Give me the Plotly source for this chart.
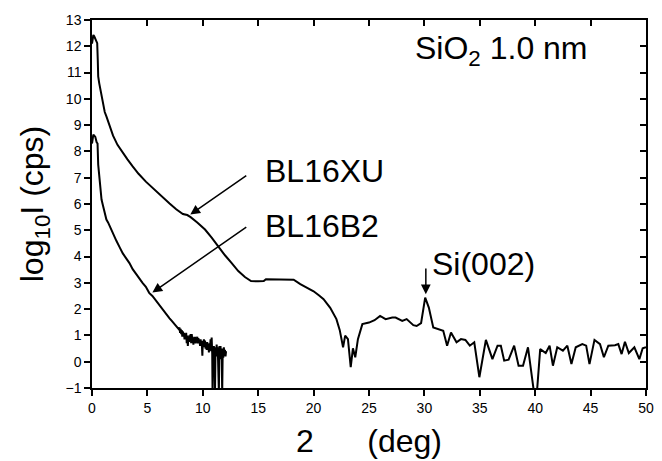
import plotly.graph_objects as go

# BL16XU (upper curve)
ux = [0.0, 0.05, 0.12, 0.2, 0.3, 0.4, 0.47, 0.52, 0.56, 0.65, 0.77, 0.9, 1.0, 1.15, 1.3, 1.6, 1.9, 2.3,
      2.78, 3.2, 3.67, 4.2, 4.86, 5.6, 6.34, 7.0, 7.6, 8.2, 8.6, 8.9, 9.5, 10.2, 10.8, 11.39, 12.0,
      12.57, 13.2, 13.8, 14.35, 15.0, 15.5, 15.7, 16.5, 17.5, 18.2, 18.8, 19.4, 20.0, 20.5, 20.9,
      21.5, 22.06, 22.36, 22.66, 22.85, 23.1, 23.35, 23.55, 23.76, 24.0, 24.4, 25.0, 25.5, 25.8,
      26.0, 26.5, 27.1, 27.4, 28.0, 28.4, 29.0, 29.3, 29.7, 30.07, 30.4, 30.8, 31.7, 32.05, 32.4,
      32.9, 33.3, 33.7, 34.1, 34.5, 34.96, 35.55, 36.14, 36.6, 36.9, 37.2, 37.6, 38.1, 38.5, 38.9,
      39.35, 39.9, 40.15, 40.45, 40.95, 41.3, 41.6, 41.99, 42.5, 42.9, 43.27, 43.66, 44.25, 44.6,
      44.9, 45.35, 45.85, 46.2, 46.6, 47.2, 47.5, 47.8, 48.1, 48.45, 48.95, 49.4, 49.7, 50.0]
uy = [12.1, 12.35, 12.43, 12.38, 12.3, 12.2, 12.12, 11.5, 10.85, 10.6, 10.34, 9.95, 9.71, 9.5, 9.33,
      8.95, 8.6, 8.25, 7.94, 7.7, 7.43, 7.15, 6.85, 6.55, 6.27, 6.02, 5.8, 5.62, 5.58, 5.5, 5.3, 5.03,
      4.72, 4.37, 4.05, 3.77, 3.45, 3.22, 3.07, 3.06, 3.07, 3.14, 3.14, 3.14, 3.12, 2.95, 2.83, 2.68,
      2.52, 2.38, 2.05, 1.62, 1.2, 0.55, 0.99, 0.86, -0.21, 0.51, 0.17, 0.86, 1.43, 1.49, 1.58, 1.68,
      1.74, 1.62, 1.68, 1.68, 1.55, 1.62, 1.39, 1.36, 1.47, 2.44, 2.06, 1.30, 1.18, 0.61, 1.11, 0.74,
      0.86, 0.83, 0.61, 0.74, -0.59, 0.83, 0.10, 0.61, 0.61, 0.04, 0.08, 0.61, -0.15, -0.15, 0.55,
      -1.2, -1.2, 0.48, 0.33, 0.61, -0.15, 0.55, 0.42, 0.61, -0.09, 0.55, 0.67, 0.61, -0.09, 0.83,
      0.67, 0.17, 0.61, 0.63, 0.67, 0.29, 0.76, 0.33, 0.55, 0.10, 0.51, 0.55]

# BL16B2 (lower curve)
bx = [0.0, 0.05, 0.12, 0.2, 0.3, 0.42, 0.5, 0.56, 0.65, 0.75, 0.86, 1.0, 1.15, 1.3, 1.45, 1.6, 1.9,
      2.2, 2.5, 2.78, 3.1, 3.38, 3.67, 4.0, 4.27, 4.56, 4.86, 5.16, 5.45, 5.8, 6.1, 6.34, 6.7, 7.0,
      7.2, 7.5, 7.7, 7.83, 7.9, 7.95, 8.0, 8.05, 8.1, 8.15, 8.2, 8.25, 8.3, 8.35, 8.4, 8.45, 8.5,
      8.55, 8.6, 8.65, 8.7, 8.75, 8.8, 8.85, 8.9, 8.95, 9.0, 9.05, 9.1, 9.15, 9.2, 9.25, 9.3, 9.35,
      9.4, 9.45, 9.5, 9.55, 9.6, 9.65, 9.7, 9.75, 9.8, 9.85, 9.9, 9.96, 10.0, 10.05, 10.1, 10.15,
      10.2, 10.25, 10.3, 10.35, 10.4, 10.45, 10.5, 10.55, 10.6, 10.65, 10.7, 10.75, 10.8, 10.85,
      10.88, 10.92, 10.96, 11.0, 11.05, 11.1, 11.15, 11.2, 11.25, 11.3, 11.35, 11.4, 11.45, 11.5,
      11.55, 11.6, 11.65, 11.7, 11.75, 11.8, 11.85, 11.9, 11.95, 12.0, 12.05, 12.1]
by = [8.3, 8.55, 8.64, 8.6, 8.55, 8.35, 8.3, 7.5, 7.0, 6.6, 6.17, 5.92, 5.65, 5.41, 5.3, 5.15, 4.91,
      4.6, 4.35, 4.12, 3.92, 3.75, 3.52, 3.33, 3.14, 3.0, 2.85, 2.62, 2.5, 2.3, 2.12, 2.0, 1.8, 1.65,
      1.55, 1.4, 1.3, 1.24, 1.3, 1.1, 1.25, 1.05, 1.2, 0.95, 1.15, 1.0, 1.1, 0.85, 1.05, 0.9, 1.1,
      0.7, 1.0, 0.6, 0.95, 0.75, 1.0, 0.8, 1.05, 0.7, 1.05, 0.85, 0.95, 0.65, 0.9, 0.75, 0.95, 0.7,
      0.9, 0.8, 0.95, 0.7, 0.9, 0.75, 0.85, 0.6, 0.85, 0.7, 0.8, 0.23, 0.75, 0.6, 0.85, 0.55, 0.8,
      0.5, 0.7, 0.45, 0.75, 0.5, 0.65, 0.35, 0.7, 0.5, 0.85, 0.4, 0.92, 0.3, -1.2, 0.5, 0.2, 0.6,
      0.1, -1.2, 0.55, 0.2, 0.65, 0.3, 0.55, 0.0, -1.2, 0.6, 0.2, 0.6, 0.1, 0.5, -1.2, 0.5, 0.15,
      0.55, 0.25, 0.45, 0.2, 0.4]

x_ticks = [0, 5, 10, 15, 20, 25, 30, 35, 40, 45, 50]
y_ticks = list(range(-1, 14))

FONT = "Liberation Sans, Arial, sans-serif"
LBL = 32

fig = go.Figure()
fig.add_trace(go.Scatter(x=ux, y=uy, mode="lines", line=dict(color="black", width=2),
                         name="BL16XU", showlegend=False))
fig.add_trace(go.Scatter(x=bx, y=by, mode="lines", line=dict(color="black", width=2),
                         name="BL16B2", showlegend=False))
fig.add_trace(go.Scatter(x=[], y=[], xaxis="x2", yaxis="y2", showlegend=False, hoverinfo="skip"))

axis_common = dict(showgrid=False, zeroline=False, showline=True, linecolor="black", linewidth=1.5,
                   tickcolor="black", tickwidth=1.5, ticklen=6,
                   tickfont=dict(family=FONT, size=14, color="black"))

fig.update_layout(
    width=662, height=461,
    margin=dict(l=92, r=8, t=20, b=72),
    paper_bgcolor="white", plot_bgcolor="white",
    font=dict(family=FONT, color="black"),
    xaxis=dict(range=[0, 50], tickvals=x_ticks, ticks="outside",
               title=dict(text="2\u00a0\u00a0\u00a0\u00a0\u00a0\u00a0(deg)",
                          font=dict(family=FONT, size=LBL), standoff=15),
               **axis_common),
    yaxis=dict(range=[-1, 13], tickvals=y_ticks, ticks="outside",
               title=dict(text="log<sub>10</sub>I (cps)", font=dict(family=FONT, size=LBL), standoff=12),
               **axis_common),
    xaxis2=dict(range=[0, 50], tickvals=x_ticks, ticks="inside", overlaying="x", side="top",
                showticklabels=False, anchor="y2", **axis_common),
    yaxis2=dict(range=[-1, 13], tickvals=y_ticks, ticks="inside", overlaying="y", side="right",
                showticklabels=False, anchor="x2", **axis_common),
)

ann_font = dict(family=FONT, size=LBL, color="black")
# arrows
fig.add_annotation(x=8.87, y=5.60, ax=14.06, ay=7.12, axref="x", ayref="y", xref="x", yref="y",
                   text="", showarrow=True, arrowhead=2, arrowsize=1.3, arrowwidth=1.5, arrowcolor="black")
fig.add_annotation(x=5.45, y=2.63, ax=14.06, ay=5.16, axref="x", ayref="y", xref="x", yref="y",
                   text="", showarrow=True, arrowhead=2, arrowsize=1.3, arrowwidth=1.5, arrowcolor="black")
fig.add_annotation(x=30.13, y=2.57, ax=30.13, ay=3.6, axref="x", ayref="y", xref="x", yref="y",
                   text="", showarrow=True, arrowhead=2, arrowsize=1.3, arrowwidth=1.5, arrowcolor="black")
# labels
fig.add_annotation(x=15.45, y=7.25, xref="x", yref="y", text="BL16XU", showarrow=False,
                   xanchor="left", yanchor="middle", font=ann_font)
fig.add_annotation(x=15.45, y=5.18, xref="x", yref="y", text="BL16B2", showarrow=False,
                   xanchor="left", yanchor="middle", font=ann_font)
fig.add_annotation(x=30.5, y=3.72, xref="x", yref="y", text="Si(002)", showarrow=False,
                   xanchor="left", yanchor="middle", font=ann_font)
fig.add_annotation(x=28.95, y=11.85, xref="x", yref="y", text="SiO<sub>2</sub> 1.0 nm", showarrow=False,
                   xanchor="left", yanchor="middle", font=ann_font)

fig.write_html("out.html")
